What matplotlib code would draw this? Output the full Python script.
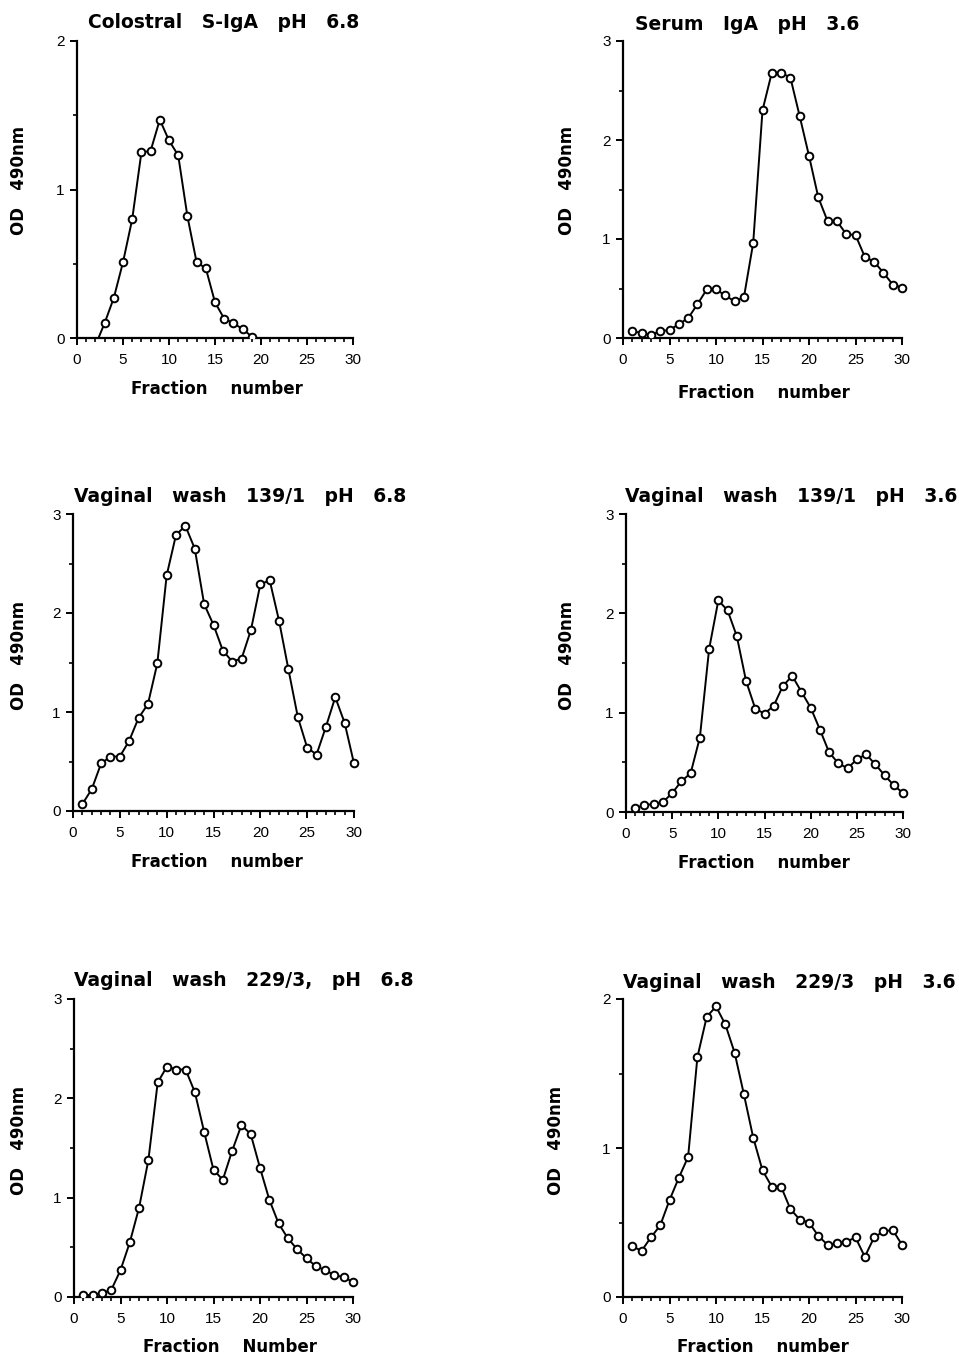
import matplotlib
matplotlib.use("Agg")
import matplotlib.pyplot as plt
from matplotlib.patches import Rectangle
from matplotlib.ticker import MultipleLocator

plt.rcParams["font.family"] = ["Liberation Sans", "DejaVu Sans"]

W, H = 959, 1356

fractions = list(range(1, 31))

# Colostral S-IgA pH 6.8 (fraction 2 dips just below zero)
colostral_x = list(range(2, 20))
colostral_od = [-0.05, 0.10, 0.27, 0.51, 0.80, 1.25, 1.26, 1.47, 1.33, 1.23,
                0.82, 0.51, 0.47, 0.24, 0.13, 0.10, 0.06, 0.01]

serum_od = [0.07, 0.05, 0.03, 0.07, 0.08, 0.14, 0.20, 0.34, 0.49, 0.49,
            0.43, 0.37, 0.41, 0.96, 2.30, 2.68, 2.68, 2.63, 2.24, 1.84,
            1.42, 1.18, 1.18, 1.05, 1.04, 0.82, 0.77, 0.66, 0.54, 0.51]

vw139_68_od = [0.07, 0.22, 0.48, 0.55, 0.55, 0.71, 0.94, 1.08, 1.49, 2.38,
               2.79, 2.88, 2.65, 2.09, 1.88, 1.62, 1.51, 1.54, 1.83, 2.29,
               2.33, 1.92, 1.43, 0.95, 0.64, 0.57, 0.85, 1.15, 0.89, 0.48]

vw139_36_od = [0.04, 0.07, 0.08, 0.10, 0.19, 0.31, 0.39, 0.75, 1.64, 2.13,
               2.03, 1.77, 1.32, 1.04, 0.99, 1.07, 1.27, 1.37, 1.21, 1.05,
               0.83, 0.60, 0.49, 0.44, 0.53, 0.58, 0.48, 0.37, 0.27, 0.19]

vw229_68_od = [0.02, 0.02, 0.04, 0.07, 0.27, 0.55, 0.90, 1.38, 2.16, 2.32,
               2.29, 2.29, 2.06, 1.66, 1.28, 1.18, 1.47, 1.73, 1.64, 1.30,
               0.98, 0.74, 0.59, 0.48, 0.39, 0.31, 0.27, 0.22, 0.20, 0.15]

vw229_36_od = [0.34, 0.31, 0.40, 0.48, 0.65, 0.80, 0.94, 1.61, 1.88, 1.95,
               1.83, 1.64, 1.36, 1.07, 0.85, 0.74, 0.74, 0.59, 0.52, 0.50,
               0.41, 0.35, 0.36, 0.37, 0.40, 0.27, 0.40, 0.44, 0.45, 0.35]

titles = ["Colostral   S-IgA   pH   6.8",
          "Serum   IgA   pH   3.6",
          "Vaginal   wash   139/1   pH   6.8",
          "Vaginal   wash   139/1   pH   3.6",
          "Vaginal   wash   229/3,   pH   6.8",
          "Vaginal   wash   229/3   pH   3.6"]
xlabels = ["Fraction    number", "Fraction    number",
           "Fraction    number", "Fraction    number",
           "Fraction    Number", "Fraction    number"]
ylabel = "OD   490nm"

series = [(colostral_x, colostral_od), (fractions, serum_od),
          (fractions, vw139_68_od), (fractions, vw139_36_od),
          (fractions, vw229_68_od), (fractions, vw229_36_od)]
ymax = [2, 3, 3, 3, 3, 2]

# axes boxes in pixels: x0, x1, ytop, ybottom
boxes = [(77, 353, 41, 338), (623, 902, 41, 338),
         (73, 354, 514, 811), (626, 903, 514, 812),
         (74, 353, 999, 1297), (623, 902, 999, 1297)]
# title left/centre-y, xlabel centre, ylabel centre
title_pos = [(88, 22), (635, 24), (74, 497), (625, 497), (74, 981), (623, 982)]
xlab_pos = [(217, 389), (764, 393), (217, 862), (764, 863), (230, 1347), (763, 1347)]
ylab_pos = [(19, 180), (567, 180), (19, 655), (567, 655), (19, 1140), (556, 1140)]

label_font = ["DejaVu Sans"]


def fx(px):
    return px / W


def fy(py):
    return 1 - py / H


fig = plt.figure(figsize=(W / 100, H / 100), dpi=100)

for i in range(6):
    x0, x1, yt, yb = boxes[i]
    ax = fig.add_axes([fx(x0), fy(yb), (x1 - x0) / W, (yb - yt) / H])
    ax.set_xlim(0, 30)
    ax.set_ylim(0, ymax[i])
    for s in ("top", "right"):
        ax.spines[s].set_visible(False)
    for s in ("left", "bottom"):
        ax.spines[s].set_linewidth(1.6)
    ax.xaxis.set_major_locator(MultipleLocator(5))
    ax.xaxis.set_minor_locator(MultipleLocator(1))
    ax.yaxis.set_major_locator(MultipleLocator(1))
    ax.yaxis.set_minor_locator(MultipleLocator(0.5))
    ax.tick_params(axis="both", which="major", direction="out", length=5,
                   width=1.4, labelsize=11)
    ax.tick_params(axis="both", which="minor", direction="out", length=3,
                   width=1.2)
    ax.tick_params(axis="x", which="major", pad=6)
    ax.tick_params(axis="y", which="major", pad=4)

    xs, ys = series[i]
    line, = ax.plot(xs, ys, color="black", lw=1.4, marker="o", ms=5.5,
                    mfc="white", mec="black", mew=1.4, zorder=3)
    clip = Rectangle((-2, 0), 34, ymax[i] + 1, transform=ax.transData)
    line.set_clip_path(clip)

    tx, ty = title_pos[i]
    fig.text(fx(tx), fy(ty), titles[i], ha="left", va="center",
             fontsize=13.5, fontweight="bold", family=label_font)
    lx, ly = xlab_pos[i]
    fig.text(fx(lx), fy(ly), xlabels[i], ha="center", va="center",
             fontsize=12, fontweight="bold", family=label_font)
    yx, yy = ylab_pos[i]
    fig.text(fx(yx), fy(yy), ylabel, ha="center", va="center",
             fontsize=12, fontweight="bold", rotation=90, family=label_font)

fig.savefig("out.png", dpi=100, facecolor="white")
